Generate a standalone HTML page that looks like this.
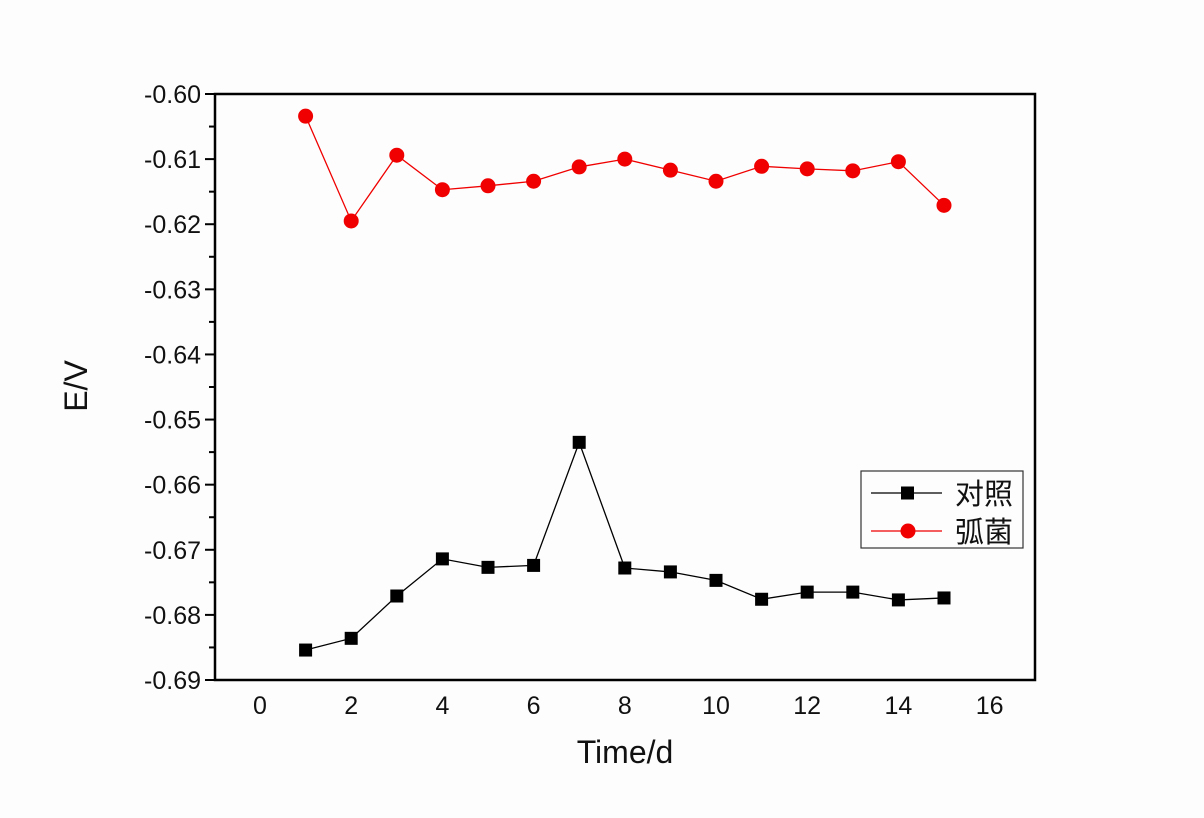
<!DOCTYPE html>
<html><head><meta charset="utf-8"><style>
html,body{margin:0;padding:0;background:#fdfdfd;}
svg{display:block;font-family:"Liberation Sans","Noto Sans CJK SC",sans-serif;}
</style></head><body>
<svg id="chart" width="1204" height="818" viewBox="0 0 1204 818" xmlns="http://www.w3.org/2000/svg">
<rect x="0" y="0" width="1204" height="818" fill="#fdfdfd"/>
<g id="plot"></g>
</svg>
<script>
const days = [1,2,3,4,5,6,7,8,9,10,11,12,13,14,15];
const controlValues = [-0.6854,-0.6836,-0.6771,-0.6714,-0.6727,-0.6724,-0.6535,-0.6728,-0.6734,-0.6747,-0.6776,-0.6765,-0.6765,-0.6777,-0.6774];
const vibrioValues = [-0.6034,-0.6195,-0.6094,-0.6147,-0.6141,-0.6134,-0.6112,-0.6100,-0.6117,-0.6134,-0.6111,-0.6115,-0.6118,-0.6104,-0.6171];
const xTicks = [0,2,4,6,8,10,12,14,16];
const yTicks = [-0.60,-0.61,-0.62,-0.63,-0.64,-0.65,-0.66,-0.67,-0.68,-0.69];
const yTickLabels = ["-0.60","-0.61","-0.62","-0.63","-0.64","-0.65","-0.66","-0.67","-0.68","-0.69"];
const seriesNames = ["对照","弧菌"];

const NS="http://www.w3.org/2000/svg";
const L=215,R=1035,T=94,B=680;
const x0=260,xPer=45.6;
const xs=v=>x0+v*xPer;
const ys=v=>T+(-0.60-v)/(0.09)*(B-T);
const g=document.getElementById('plot');
function mk(tag,attrs){const e=document.createElementNS(NS,tag);for(const k in attrs)e.setAttribute(k,attrs[k]);g.appendChild(e);return e;}

const frame=mk('rect',{x:L,y:T,width:R-L,height:B-T,fill:'none',stroke:'#000','stroke-width':2.5});



yTicks.forEach((v,i)=>{
  const y=ys(v);
  const t=mk('line',{x1:L-10,x2:L,y1:y,y2:y,stroke:'#000','stroke-width':2});
  
  
  const lb=mk('text',{x:L-14,y:y+9,'text-anchor':'end','font-size':25,fill:'#111'});
  lb.textContent=yTickLabels[i];
  
  
  if(i<yTicks.length-1){
    const ym=ys(v-0.005);
    const m=mk('line',{x1:L-6,x2:L,y1:ym,y2:ym,stroke:'#000','stroke-width':2});
    
    
  }
});
xTicks.forEach(v=>{
  const lb=mk('text',{x:xs(v),y:714,'text-anchor':'middle','font-size':25,fill:'#111'});
  lb.textContent=String(v);
  
  
});
const xt=mk('text',{x:625,y:763,'text-anchor':'middle','font-size':32,fill:'#111'});
xt.textContent='Time/d';


const yt=mk('text',{x:0,y:0,'text-anchor':'middle','font-size':32,fill:'#111',transform:'translate(87,386) rotate(-90)'});
yt.textContent='E/V';



function drawSeries(vals,color,shape,name){
  const pts=days.map((d,i)=>xs(d)+','+ys(vals[i])).join(' ');
  const pl=mk('polyline',{points:pts,fill:'none',stroke:color,'stroke-width':1.3});
  
  
  days.forEach((d,i)=>{
    let m;
    if(shape==='square') m=mk('rect',{x:xs(d)-6.5,y:ys(vals[i])-6.5,width:13,height:13,fill:color});
    else m=mk('circle',{cx:xs(d),cy:ys(vals[i]),r:7.5,fill:color});
    
    
  });
}
drawSeries(controlValues,'#000','square','control');
drawSeries(vibrioValues,'#f00000','circle','vibrio');

const lg=mk('rect',{x:861,y:471,width:162,height:77,fill:'#fdfdfd',stroke:'#333','stroke-width':1.2});


[['#000','square',493,seriesNames[0],'legend-entry-control'],['#f00000','circle',531,seriesNames[1],'legend-entry-vibrio']].forEach(e=>{
  const [c,s,y,txt,nm]=e;
  const ln=mk('line',{x1:871,x2:942,y1:y,y2:y,stroke:c,'stroke-width':1.3});
  
  
  let m;
  if(s==='square') m=mk('rect',{x:901,y:y-6.5,width:13,height:13,fill:c});
  else m=mk('circle',{cx:908,cy:y,r:7.5,fill:c});
  
  
  const t=mk('text',{x:955,y:y+11,'font-size':29,fill:'#111'});
  t.textContent=txt;
  
  
});
</script>
</body></html>
